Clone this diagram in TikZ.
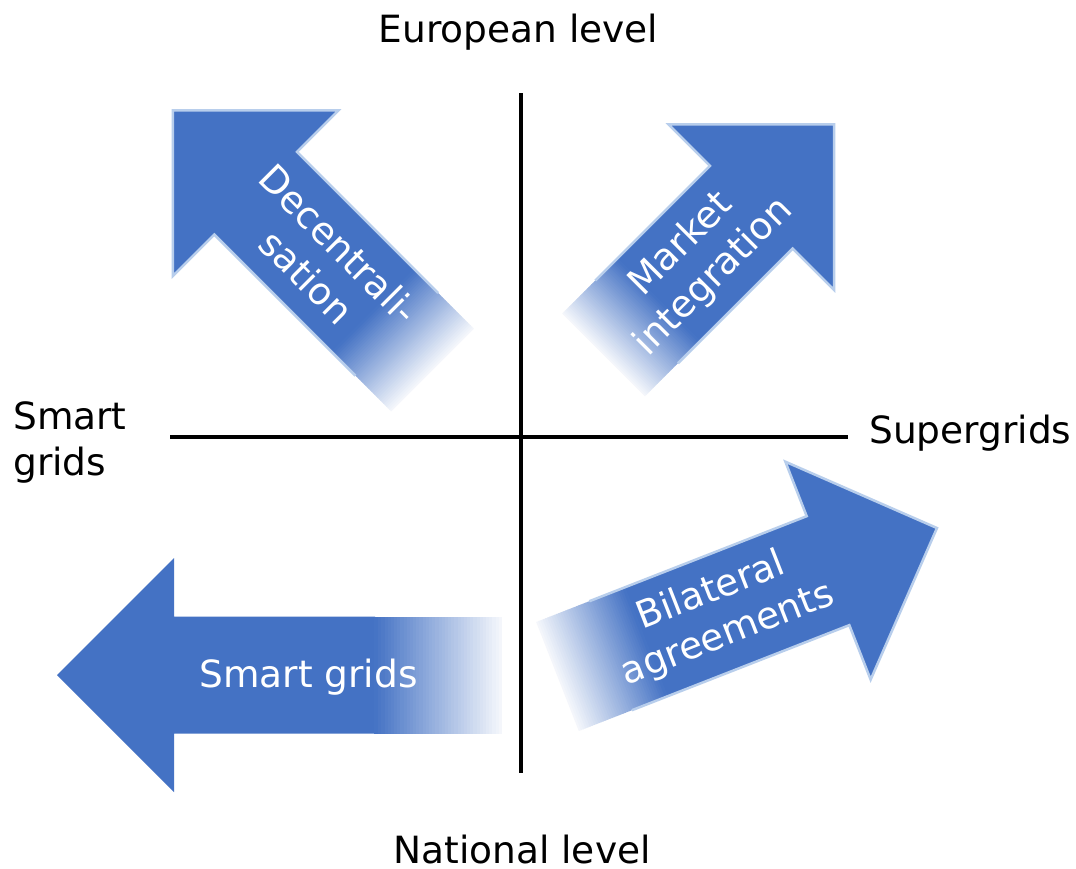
\documentclass[tikz,border=0pt]{standalone}
\usepackage{fontspec}
\setmainfont{DejaVu Sans}
\definecolor{arrowblue}{RGB}{68,114,196}
\definecolor{edgeblue}{RGB}{184,206,236}

% Block arrow pointing along the local x axis, tail at the origin.
% #1,#2 tail centre, #3 direction angle, #4 length, #5 faded tail length, #6 draw edge (1/0)
\newcommand\flowarrow[6]{%
  \begin{scope}[shift={(#1,#2)}, rotate=#3]
    \fill[arrowblue] (#5,-58.5) -- (#4-117,-58.5) -- (#4-117,-117) -- (#4,0)
      -- (#4-117,117) -- (#4-117,58.5) -- (#5,58.5) -- cycle;
    \foreach \i in {0,...,39} {
      \pgfmathsetmacro\ta{#5*\i/40}
      \pgfmathsetmacro\tb{#5*(\i+1)/40+0.7}
      \pgfmathsetmacro\pc{5+95*(\i+0.5)/40}
      \fill[arrowblue!\pc!white] (\ta,-58.5) rectangle (\tb,58.5);
    }
    \ifnum#6=1
      \draw[arrowedge] (#5*0.6,-58.5) -- (#4-117,-58.5) -- (#4-117,-117) -- (#4,0)
        -- (#4-117,117) -- (#4-117,58.5) -- (#5*0.6,58.5);
    \fi
  \end{scope}}

\begin{document}
\begin{tikzpicture}[x=1pt, y=-1pt,
  arrowedge/.style={draw=edgeblue, line width=2.5pt, line join=miter},
  axisline/.style={line width=4.5pt, line cap=butt},
  axislabel/.style={inner sep=0pt, text=black, font=\fontsize{37.5}{46}\selectfont},
  arrowtext/.style={inner sep=0pt, text=white, align=center, font=\fontsize{37.5}{46}\selectfont}]
  \useasboundingbox (0,0) rectangle (1076,868);
  \fill[white] (0,0) rectangle (1076,868);

  % the four block arrows
  \flowarrow{432.5}{370}{135}{367}{84}{1}
  \flowarrow{603.5}{355}{45}{326}{78}{1}
  \flowarrow{557.5}{676.5}{21.37}{407.5}{95}{1}
  \flowarrow{502}{675}{180}{445}{127}{0}

  % their labels, centred on each arrow's axis
  \begin{scope}[shift={(432.5,370)}, rotate=135]
    \node[arrowtext, rotate=-45] (decentral) at (155,0) {Decentrali-\\sation};
  \end{scope}
  \begin{scope}[shift={(603.5,355)}, rotate=45]
    \node[arrowtext, rotate=45] (market) at (133,0) {Market\\integration};
  \end{scope}
  \begin{scope}[shift={(557.5,676.5)}, rotate=21.37]
    \node[arrowtext, rotate=21.37] (bilateral) at (174,0) {Bilateral\\agreements};
  \end{scope}
  \node[arrowtext] (smartarrow) at (308.5,677) {Smart grids};

  % axes
  \coordinate (vtop) at (521,93);
  \coordinate (vbot) at (521,773);
  \coordinate (hleft) at (170,437);
  \coordinate (hright) at (848,437);
  \draw[axisline] (vtop) -- (vbot);
  \draw[axisline] (hleft) -- (hright);

  % axis end labels
  \node[axislabel, anchor=base] (european) at (518.5,42) {European level};
  \node[axislabel, anchor=base] (national) at (522,863) {National level};
  \node[axislabel, anchor=west, align=left] (smartleft) at (13,442) {Smart\\grids};
  \node[axislabel, anchor=base west] (supergrids) at (869,443) {Supergrids};
\end{tikzpicture}
\end{document}
